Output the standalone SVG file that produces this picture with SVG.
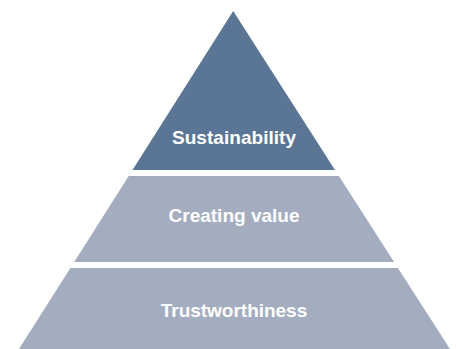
<svg xmlns="http://www.w3.org/2000/svg" width="456" height="349" viewBox="0 0 456 349">
<style>
.dark{fill:#5b7594}
.light{fill:#a3adbf}
.lbl{font-family:"Liberation Sans",Arial,sans-serif;font-weight:bold;font-size:19px;fill:#ffffff;text-anchor:middle}
</style>
<rect width="456" height="349" fill="#ffffff"/>
<g id="sustainability">
<polygon class="dark" points="233.2,11 335,170 132.5,170"/>
<text class="lbl" x="234" y="144.3" textLength="124" lengthAdjust="spacing">Sustainability</text>
</g>
<g id="creating-value">
<polygon class="light" points="128.7,176 338.9,176 394.1,262 74.2,262"/>
<text class="lbl" x="234" y="221.7" textLength="131" lengthAdjust="spacing">Creating value</text>
</g>
<g id="trustworthiness">
<polygon class="light" points="70.4,268 397.9,268 450,349 19,349"/>
<text class="lbl" x="234" y="316.7" textLength="146.5" lengthAdjust="spacing">Trustworthiness</text>
</g>
<g id="connectors"></g>
</svg>
